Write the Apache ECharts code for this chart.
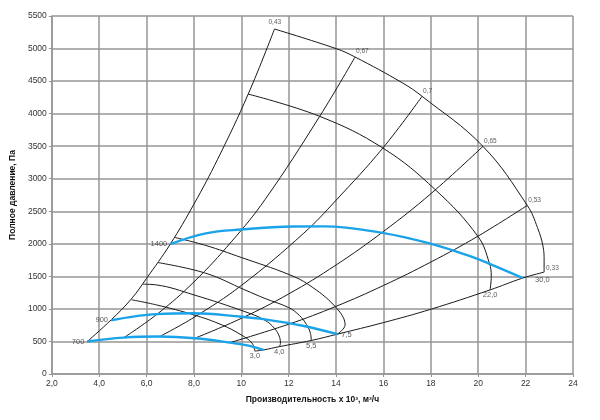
<!DOCTYPE html>
<html>
<head>
<meta charset="utf-8">
<title>Аэродинамическая характеристика</title>
<script src="https://cdn.jsdelivr.net/npm/echarts@6/dist/echarts.min.js"></script>
<style>
  html, body { margin: 0; padding: 0; background: #fff; }
  #main { width: 600px; height: 420px; }
</style>
</head>
<body>
<div id="main"></div>
<script type="text/javascript">
// ось X: производительность, тыс. м3/ч
var xTicks = ['2,0', '4,0', '6,0', '8,0', '10', '12', '14', '16', '18', '20', '22', '24'];

// линии КПД (снизу вверх)
var effNames = ['0,43', '0,67', '0,7', '0,65', '0,53', '0,33'];
var eff043 = [[3.5, 500], [4.5, 830], [5.35, 1150], [6.0, 1470], [7.0, 1995], [8.0, 2610], [9.0, 3300], [10.29, 4300], [11.4, 5300]];
var eff067 = [[5.05, 560], [6.5, 935], [8.0, 1415], [9.6, 2040], [11.0, 2680], [13.31, 3960], [14.8, 4870]];
var eff070 = [[6.55, 575], [8.0, 870], [10.0, 1360], [12.64, 2165], [14.0, 2670], [15.97, 3470], [17.63, 4266]];
var eff065 = [[8.04, 550], [10.0, 855], [12.0, 1230], [14.0, 1675], [16.0, 2190], [18.0, 2770], [20.2, 3497]];
var eff053 = [[9.5, 480], [12.0, 765], [14.0, 1040], [16.0, 1360], [18.0, 1720], [20.0, 2120], [22.07, 2590]];
var eff033 = [[10.57, 352], [10.94, 370], [11.6, 420], [12.95, 515], [14.05, 612], [16.0, 790], [18.0, 995], [20.5, 1292], [21.86, 1472], [22.78, 1565]];

// кривые давления, подпись - мощность двигателя, кВт
var powNames = ['3,0', '4,0', '5,5', '7,5', '22,0', '30,0'];
var pow30 = [[5.37, 1140], [6.41, 1062], [8.0, 908], [9.18, 754], [10.0, 600], [10.45, 475], [10.57, 352]];
var pow40 = [[5.85, 1380], [6.41, 1369], [8.0, 1215], [10.15, 958], [10.98, 830], [11.4, 700], [11.62, 560], [11.65, 470], [11.6, 420]];
var pow55 = [[6.48, 1712], [8.49, 1549], [10.15, 1292], [11.0, 1160], [12.0, 1020], [12.45, 900], [12.75, 760], [12.92, 620], [12.95, 515]];
var pow75 = [[7.2, 2097], [8.5, 1975], [10.0, 1790], [12.0, 1530], [12.85, 1370], [13.96, 1036], [14.38, 754], [14.05, 612]];
var pow220 = [[10.29, 4300], [13.31, 3958], [15.97, 3472], [18.19, 2831], [19.99, 2112], [20.47, 1703], [20.55, 1500], [20.5, 1292]];
var pow300 = [[11.4, 5300], [14.03, 4995], [14.79, 4872], [16.8, 4472], [17.63, 4266], [20.2, 3497], [22.07, 2590], [22.5, 2250], [22.74, 1950], [22.78, 1750], [22.78, 1565]];

// частота вращения, об/мин
var spdNames = ['700', '900', '1400'];
var spd700 = [[3.5, 500], [5.03, 559], [6.5, 575], [8.04, 549], [9.6, 478], [10.3, 435], [10.94, 370]];
var spd900 = [[4.5, 825], [5.5, 885], [6.41, 920], [8.0, 934], [9.87, 885], [11.0, 840], [12.64, 738], [14.05, 612]];
var spd1400 = [[7.0, 1995], [8.5, 2160], [10.0, 2220], [12.2, 2265], [13.5, 2268], [16.0, 2165], [17.9, 2010], [19.5, 1830], [20.4, 1705], [21.88, 1475]];

var effLines = [eff043, eff067, eff070, eff065, eff053, eff033];
var powLines = [pow30, pow40, pow55, pow75, pow220, pow300];
var spdLines = [spd700, spd900, spd1400];

var effPos = [[-6, -10], [1, -9], [1, -9], [1, -9], [1, -9], [2, -7]];
var powPos = ['bottom', 'bottom', 'bottom', [4, -3], 'bottom', [-9, 4]];

var font = 'Liberation Sans, Arial, sans-serif';
var gridColor = '#969696';

function lastOf(a) { return a[a.length - 1]; }

var series = [];

effLines.forEach(function (d) {
    series.push({ type: 'line', data: d, smooth: 0.4, showSymbol: false, silent: true,
        lineStyle: { color: '#1a1a1a', width: 1 }, z: 3 });
});
powLines.forEach(function (d) {
    series.push({ type: 'line', data: d, smooth: 0.4, showSymbol: false, silent: true,
        lineStyle: { color: '#1a1a1a', width: 1 }, z: 3 });
});
spdLines.forEach(function (d) {
    series.push({ type: 'line', data: d, smooth: 0.4, showSymbol: false, silent: true,
        lineStyle: { color: '#1aa3e8', width: 2.4 }, z: 4 });
});

// подписи
var labelData = [];
effNames.forEach(function (n, i) {
    labelData.push({ value: lastOf(effLines[i]),
        label: { formatter: n, position: effPos[i], fontSize: 6.5 } });
});
powNames.forEach(function (n, i) {
    labelData.push({ value: lastOf(powLines[i]),
        label: { formatter: n, position: powPos[i], distance: 1, fontSize: 7.5 } });
});
spdNames.forEach(function (n, i) {
    labelData.push({ value: spdLines[i][0],
        label: { formatter: n, position: 'left', distance: 3, fontSize: 7.5 } });
});
series.push({
    type: 'scatter', data: labelData, symbolSize: 0, silent: true, z: 5,
    label: { show: true, color: '#333', fontFamily: font }
});

var myChart = echarts.init(document.getElementById('main'));
myChart.setOption({
    animation: false,
    backgroundColor: '#fff',
    grid: { left: 44, right: 27, top: 16, bottom: 46, containLabel: false },
    xAxis: {
        type: 'value', min: 2, max: 24, interval: 2,
        name: 'Производительность x 10³, м³/ч',
        nameLocation: 'middle', nameGap: 21,
        nameTextStyle: { fontFamily: font, fontWeight: 'bold', fontSize: 8.5, color: '#111' },
        axisLine: { show: true, lineStyle: { color: gridColor, width: 1.5 } },
        axisTick: { show: true, length: 3, lineStyle: { color: gridColor } },
        axisLabel: { fontFamily: font, fontSize: 8.5, color: '#333', margin: 5,
            formatter: function (v) { return xTicks[Math.round((v - 2) / 2)]; } },
        splitLine: { show: true, lineStyle: { color: gridColor, width: 1.5 } }
    },
    yAxis: {
        type: 'value', min: 0, max: 5500, interval: 500,
        name: 'Полное давление, Па',
        nameLocation: 'middle', nameGap: 33, nameRotate: 90,
        nameTextStyle: { fontFamily: font, fontWeight: 'bold', fontSize: 8.5, color: '#111' },
        axisLine: { show: true, lineStyle: { color: gridColor, width: 1.5 } },
        axisTick: { show: true, length: 3, lineStyle: { color: gridColor } },
        axisLabel: { fontFamily: font, fontSize: 8.5, color: '#333', margin: 5,
            formatter: function (v) { return String(v); } },
        splitLine: { show: true, lineStyle: { color: gridColor, width: 1.5 } }
    },
    series: series
});
</script>
</body>
</html>
